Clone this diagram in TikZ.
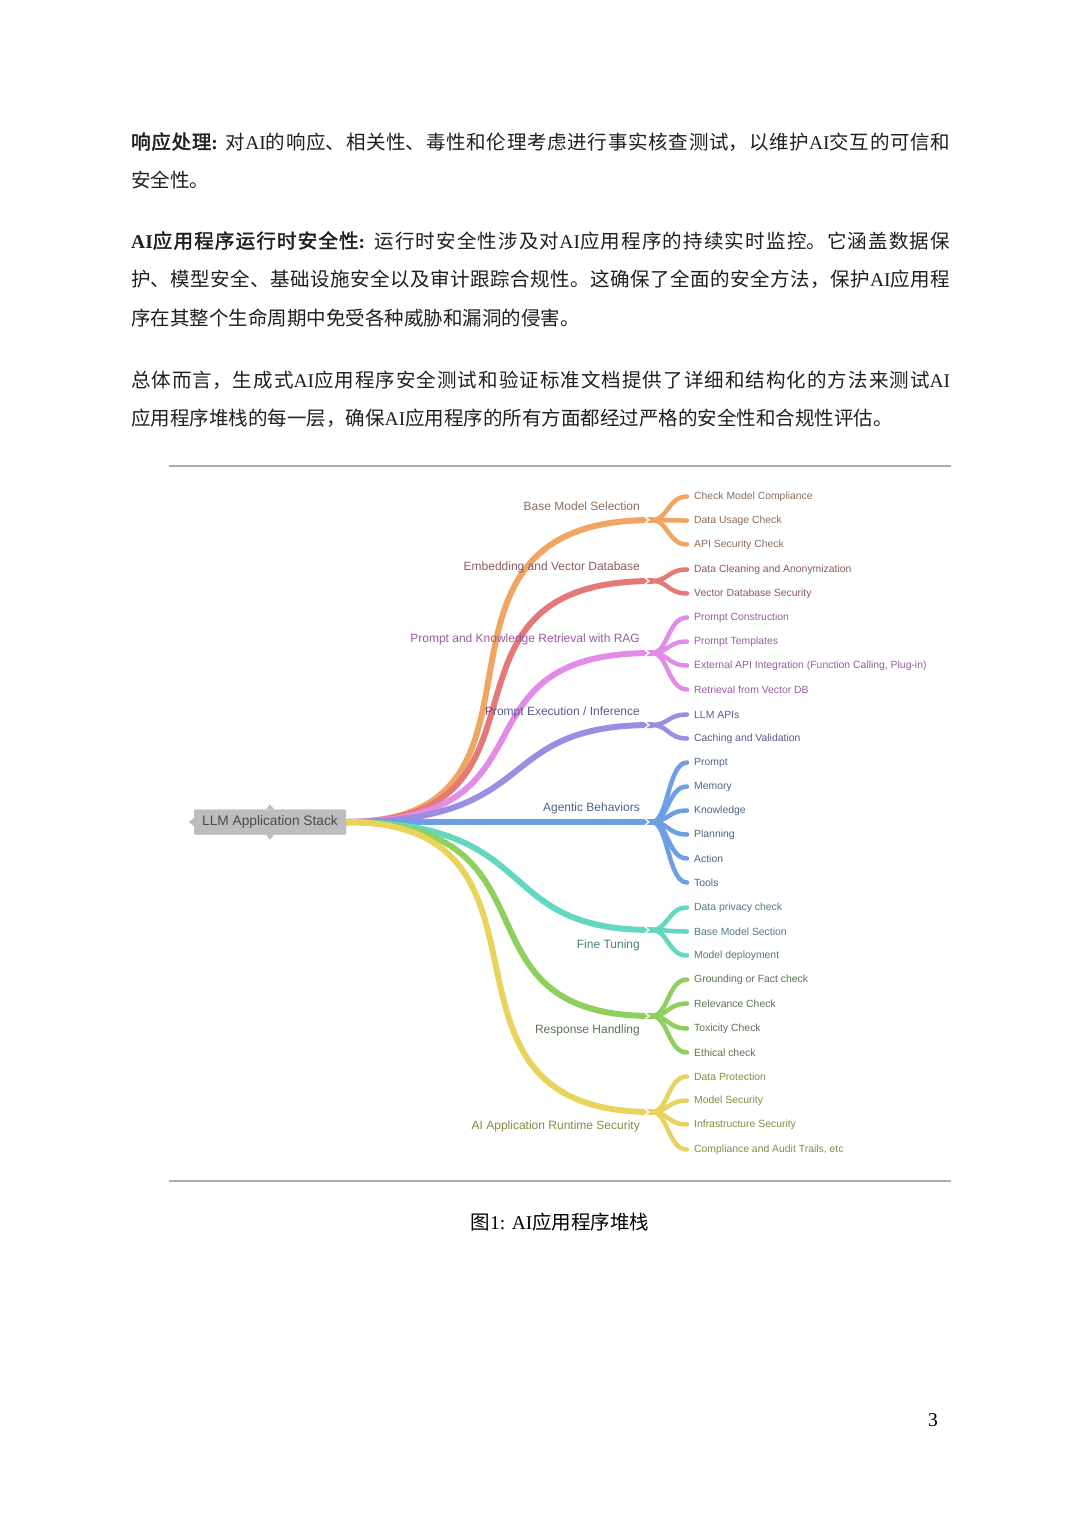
\documentclass[tikz,border=0pt]{standalone}
\usepackage{fontspec}
\setmainfont{Liberation Serif}
\newfontfamily\cjk[AutoFakeBold=2]{Noto Sans CJK SC}
\newfontfamily\mapfont{Liberation Sans}
\XeTeXlinebreaklocale "zh"
\XeTeXlinebreakskip=0pt plus 1.5pt

% branch colours and their label inks
\definecolor{brOrange}{HTML}{F0A662}
\definecolor{brRed}{HTML}{E57878}
\definecolor{brPink}{HTML}{E28CE8}
\definecolor{brPurple}{HTML}{9A8EE2}
\definecolor{brBlue}{HTML}{6E9EE3}
\definecolor{brTeal}{HTML}{62D8C0}
\definecolor{brGreen}{HTML}{8ED05E}
\definecolor{brYellow}{HTML}{E8D35E}
\definecolor{txOrange}{HTML}{8C6E5C}
\definecolor{txRed}{HTML}{8C5A5C}
\definecolor{txPink}{HTML}{9A5AA4}
\definecolor{txPurple}{HTML}{5C5890}
\definecolor{txBlue}{HTML}{4E6388}
\definecolor{txTeal}{HTML}{4C7C84}
\definecolor{txGreen}{HTML}{5B7255}
\definecolor{txYellow}{HTML}{8A8844}
\definecolor{rootgray}{HTML}{BDBDBD}
\definecolor{rootink}{HTML}{4A4A4A}

\begin{document}
\begin{tikzpicture}[x=1pt, y=-1pt,
  para/.style={anchor=base west, inner sep=0pt, text width=819pt, align=justify,
    font=\cjk\fontsize{19.5pt}{38.5pt}\selectfont, text=black!88},
  branch/.style={line width=6pt, line cap=round},
  twig/.style={line width=4.5pt, line cap=round, shorten >=7pt},
  notch/.style={white, line width=1.2pt},
  group/.style={anchor=east, inner sep=0pt, font=\mapfont\fontsize{12pt}{14pt}\selectfont},
  leaf/.style={anchor=west, inner sep=0pt, yshift=-1.5pt, font=\mapfont\fontsize{10.4pt}{12pt}\selectfont},
  rootbox/.style={fill=rootgray, text=rootink, rounded corners=1.5pt, minimum width=152pt,
    minimum height=25pt, inner sep=0pt, font=\mapfont\fontsize{13.7pt}{16pt}\selectfont}]
\useasboundingbox (0,0) rectangle (1080,1526);
\fill[white] (0,0) rectangle (1080,1526);

% page text:
\node[para] (p1) at (131,149) {{\bfseries 响应处理{\rmfamily :}} 对{\rmfamily AI}的响应、相关性、毒性和伦理考虑进行事实核查测试，以维护{\rmfamily AI}交互的可信和\linebreak
安全性。};
\node[para] (p2) at (131,248) {{\bfseries{\rmfamily AI}应用程序运行时安全性{\rmfamily :}} 运行时安全性涉及对{\rmfamily AI}应用程序的持续实时监控。它涵盖数据保\linebreak
护、模型安全、基础设施安全以及审计跟踪合规性。这确保了全面的安全方法，保护{\rmfamily AI}应用程\linebreak
序在其整个生命周期中免受各种威胁和漏洞的侵害。};
\node[para] (p3) at (131,387) {总体而言，生成式{\rmfamily AI}应用程序安全测试和验证标准文档提供了详细和结构化的方法来测试{\rmfamily AI}\linebreak
应用程序堆栈的每一层，确保{\rmfamily AI}应用程序的所有方面都经过严格的安全性和合规性评估。};

% figure frame:
\draw[gray!65, line width=1.5pt] (169,466) -- (951,466);
\draw[gray!65, line width=1.5pt] (169,1181) -- (951,1181);

% root and junctions:
\node[rootbox] (root) at (270,822) {LLM Application Stack};
\coordinate (j1) at (652,520);
\coordinate (j2) at (652,581);
\coordinate (j3) at (652,653);
\coordinate (j4) at (652,725);
\coordinate (j5) at (652,822);
\coordinate (j6) at (652,930);
\coordinate (j7) at (652,1016);
\coordinate (j8) at (652,1112);

% leaves:
\node[leaf, text=txOrange] (cmc) at (694,495) {Check Model Compliance};
\node[leaf, text=txOrange] (duc) at (694,519) {Data Usage Check};
\node[leaf, text=txOrange] (asc) at (694,543) {API Security Check};
\node[leaf, text=txRed] (dca) at (694,568) {Data Cleaning and Anonymization};
\node[leaf, text=txRed] (vds) at (694,592) {Vector Database Security};
\node[leaf, text=txPink] (pc) at (694,616) {Prompt Construction};
\node[leaf, text=txPink] (pt) at (694,640) {Prompt Templates};
\node[leaf, text=txPink] (eai) at (694,664) {External API Integration (Function Calling, Plug-in)};
\node[leaf, text=txPink] (rvd) at (694,688) {Retrieval from Vector DB};
\node[leaf, text=txPurple] (api) at (694,713) {LLM APIs};
\node[leaf, text=txPurple] (cav) at (694,737) {Caching and Validation};
\node[leaf, text=txBlue] (pr) at (694,761) {Prompt};
\node[leaf, text=txBlue] (me) at (694,785) {Memory};
\node[leaf, text=txBlue] (kn) at (694,809) {Knowledge};
\node[leaf, text=txBlue] (pl) at (694,833) {Planning};
\node[leaf, text=txBlue] (ac) at (694,857) {Action};
\node[leaf, text=txBlue] (to) at (694,881) {Tools};
\node[leaf, text=txTeal] (dpc) at (694,906) {Data privacy check};
\node[leaf, text=txTeal] (bmsec) at (694,930) {Base Model Section};
\node[leaf, text=txTeal] (md) at (694,954) {Model deployment};
\node[leaf, text=txGreen] (gfc) at (694,978) {Grounding or Fact check};
\node[leaf, text=txGreen] (rc) at (694,1002) {Relevance Check};
\node[leaf, text=txGreen] (tc) at (694,1027) {Toxicity Check};
\node[leaf, text=txGreen] (ec) at (694,1051) {Ethical check};
\node[leaf, text=txYellow] (dp) at (694,1075) {Data Protection};
\node[leaf, text=txYellow] (ms) at (694,1099) {Model Security};
\node[leaf, text=txYellow] (is) at (694,1123) {Infrastructure Security};
\node[leaf, text=txYellow] (cat) at (694,1148) {Compliance and Audit Trails, etc};

% main branches:
\draw[branch, brOrange] (root.east) .. controls +(240,0) and +(-264,0) .. (j1);
\draw[branch, brRed] (root.east) .. controls +(230,0) and +(-241,0) .. (j2);
\draw[branch, brPink] (root.east) .. controls +(220,0) and +(-209,0) .. (j3);
\draw[branch, brPurple] (root.east) .. controls +(200,0) and +(-163,0) .. (j4);
\draw[branch, brBlue] (root.east) -- (j5);
\draw[branch, brTeal] (root.east) .. controls +(200,0) and +(-163,0) .. (j6);
\draw[branch, brGreen] (root.east) .. controls +(225,0) and +(-209,0) .. (j7);
\draw[branch, brYellow] (root.east) .. controls +(240,0) and +(-248,0) .. (j8);

% forks:
\draw[twig, brOrange] (j1) .. controls +(16,0) and +(-26,0) .. (cmc.west);
\draw[twig, brOrange] (j1) .. controls +(16,0) and +(-26,0) .. (duc.west);
\draw[twig, brOrange] (j1) .. controls +(16,0) and +(-26,0) .. (asc.west);
\draw[twig, brRed] (j2) .. controls +(16,0) and +(-26,0) .. (dca.west);
\draw[twig, brRed] (j2) .. controls +(16,0) and +(-26,0) .. (vds.west);
\draw[twig, brPink] (j3) .. controls +(16,0) and +(-26,0) .. (pc.west);
\draw[twig, brPink] (j3) .. controls +(16,0) and +(-26,0) .. (pt.west);
\draw[twig, brPink] (j3) .. controls +(16,0) and +(-26,0) .. (eai.west);
\draw[twig, brPink] (j3) .. controls +(16,0) and +(-26,0) .. (rvd.west);
\draw[twig, brPurple] (j4) .. controls +(16,0) and +(-26,0) .. (api.west);
\draw[twig, brPurple] (j4) .. controls +(16,0) and +(-26,0) .. (cav.west);
\draw[twig, brBlue] (j5) .. controls +(16,0) and +(-26,0) .. (pr.west);
\draw[twig, brBlue] (j5) .. controls +(16,0) and +(-26,0) .. (me.west);
\draw[twig, brBlue] (j5) .. controls +(16,0) and +(-26,0) .. (kn.west);
\draw[twig, brBlue] (j5) .. controls +(16,0) and +(-26,0) .. (pl.west);
\draw[twig, brBlue] (j5) .. controls +(16,0) and +(-26,0) .. (ac.west);
\draw[twig, brBlue] (j5) .. controls +(16,0) and +(-26,0) .. (to.west);
\draw[twig, brTeal] (j6) .. controls +(16,0) and +(-26,0) .. (dpc.west);
\draw[twig, brTeal] (j6) .. controls +(16,0) and +(-26,0) .. (bmsec.west);
\draw[twig, brTeal] (j6) .. controls +(16,0) and +(-26,0) .. (md.west);
\draw[twig, brGreen] (j7) .. controls +(16,0) and +(-26,0) .. (gfc.west);
\draw[twig, brGreen] (j7) .. controls +(16,0) and +(-26,0) .. (rc.west);
\draw[twig, brGreen] (j7) .. controls +(16,0) and +(-26,0) .. (tc.west);
\draw[twig, brGreen] (j7) .. controls +(16,0) and +(-26,0) .. (ec.west);
\draw[twig, brYellow] (j8) .. controls +(16,0) and +(-26,0) .. (dp.west);
\draw[twig, brYellow] (j8) .. controls +(16,0) and +(-26,0) .. (ms.west);
\draw[twig, brYellow] (j8) .. controls +(16,0) and +(-26,0) .. (is.west);
\draw[twig, brYellow] (j8) .. controls +(16,0) and +(-26,0) .. (cat.west);

% chevrons at the junctions:
\draw[notch] ([shift={(-8pt,4pt)}]j1) -- ([xshift=-3pt]j1) -- ([shift={(-8pt,-4pt)}]j1);
\draw[notch] ([shift={(-8pt,4pt)}]j2) -- ([xshift=-3pt]j2) -- ([shift={(-8pt,-4pt)}]j2);
\draw[notch] ([shift={(-8pt,4pt)}]j3) -- ([xshift=-3pt]j3) -- ([shift={(-8pt,-4pt)}]j3);
\draw[notch] ([shift={(-8pt,4pt)}]j4) -- ([xshift=-3pt]j4) -- ([shift={(-8pt,-4pt)}]j4);
\draw[notch] ([shift={(-8pt,4pt)}]j5) -- ([xshift=-3pt]j5) -- ([shift={(-8pt,-4pt)}]j5);
\draw[notch] ([shift={(-8pt,4pt)}]j6) -- ([xshift=-3pt]j6) -- ([shift={(-8pt,-4pt)}]j6);
\draw[notch] ([shift={(-8pt,4pt)}]j7) -- ([xshift=-3pt]j7) -- ([shift={(-8pt,-4pt)}]j7);
\draw[notch] ([shift={(-8pt,4pt)}]j8) -- ([xshift=-3pt]j8) -- ([shift={(-8pt,-4pt)}]j8);

% group labels:
\node[group, text=txOrange] (bms) at (640,506) {Base Model Selection};
\node[group, text=txRed] (evd) at (640,567) {Embedding and Vector Database};
\node[group, text=txPink] (rag) at (640,639) {Prompt and Knowledge Retrieval with RAG};
\node[group, text=txPurple] (pei) at (640,712) {Prompt Execution / Inference};
\node[group, text=txBlue] (agb) at (640,808) {Agentic Behaviors};
\node[group, text=txTeal] (ft) at (640,945) {Fine Tuning};
\node[group, text=txGreen] (rh) at (640,1030) {Response Handling};
\node[group, text=txYellow] (ars) at (640,1126) {AI Application Runtime Security};

% root on top, with its small tabs:
\node[rootbox] at (root) {LLM Application Stack};
\fill[rootgray] ([yshift=4pt]root.west) -- ([xshift=-5pt]root.west) -- ([yshift=-4pt]root.west) -- cycle;
\fill[rootgray] ([xshift=-4pt]root.north) -- ([yshift=5pt]root.north) -- ([xshift=4pt]root.north) -- cycle;
\fill[rootgray] ([xshift=-4pt]root.south) -- ([yshift=-5pt]root.south) -- ([xshift=4pt]root.south) -- cycle;

% caption and page number:
\node[inner sep=0pt, font=\cjk\fontsize{19.5pt}{24pt}\selectfont] (cap) at (560,1222) {图{\rmfamily 1: AI}应用程序堆栈};
\node[inner sep=0pt, font=\fontsize{19.5pt}{24pt}\selectfont] (pg) at (933,1420) {3};
\end{tikzpicture}
\end{document}
